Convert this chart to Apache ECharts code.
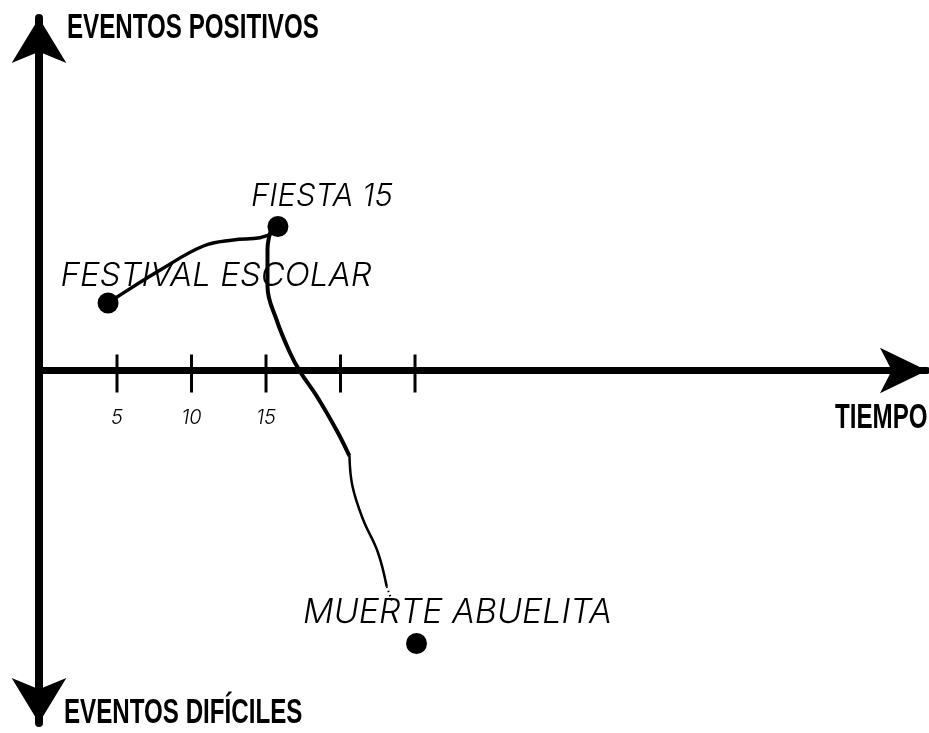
<!DOCTYPE html>
<html><head><meta charset="utf-8">
<script src="https://cdn.jsdelivr.net/npm/echarts@6/dist/echarts.min.js"></script>
<style>html,body{margin:0;padding:0;background:#fff}#c{width:929px;height:733px}</style>
</head><body><div id="c"></div>
<script>
// ---- data ----
const eventNames = ['FESTIVAL ESCOLAR', 'FIESTA 15', 'MUERTE ABUELITA'];
const eventX = [4.4, 15.8, 25.1];
const eventY = [4.5, 9.6, -18.2];
// hand-drawn connecting curve
const riseX = [4.4, 5.0, 7.9, 10.8, 12.8, 14.6, 15.5, 15.8];
const riseY = [4.5, 4.9, 6.7, 8.3, 8.7, 8.85, 9.2, 9.6];
const fallX = [15.3, 15.1, 15.1, 15.7, 16.6, 17.3, 18.4, 19.8, 20.6];
const fallY = [9.25, 8.1, 5.6, 3.4, 1.2, -0.1, -1.7, -4.1, -5.7];
const fadeX = [20.6, 20.8, 21.5, 22.5, 23.1];
const fadeY = [-5.7, -7.7, -9.9, -12.1, -14.4];
const trailX = [23.1, 23.5];
const trailY = [-14.4, -15.5];
const tickValues = [5, 10, 15, 20, 25];
const tickLabels = ['5', '10', '15', '', ''];
const xTitle = 'TIEMPO';
const yTopTitle = 'EVENTOS POSITIVOS';
const yBottomTitle = 'EVENTOS DIFÍCILES';

// ---- chart ----
const zip = (xs, ys) => xs.map((x, i) => [x, ys[i]]);
const hand = { fontFamily: 'Inter', fontStyle: 'italic', fontWeight: 300, color: '#000' };
const labelOffsets = [[108, -27], [44, -30], [41, -31]];
const labelSizes = [33, 31, 34];
const titleFont = { fontFamily: 'Liberation Sans', fontWeight: 'bold', fontSize: 35, fill: '#000' };
const titleText = (text, x, y) => ({
  type: 'text', x: x, y: y, scaleX: 0.69, scaleY: 1,
  style: Object.assign({ text: text, textVerticalAlign: 'middle' }, titleFont)
});

const chart = echarts.init(document.getElementById('c'), null, { renderer: 'canvas' });
chart.setOption({
  animation: false,
  backgroundColor: '#fff',
  grid: { left: 39, right: 2, top: 18, bottom: 10 },
  xAxis: {
    type: 'value', min: -0.235, max: 59.36,
    axisLine: { onZero: true, lineStyle: { color: '#000', width: 7 },
      symbol: ['none', 'arrow'], symbolSize: [34, 47] },
    axisTick: { show: false }, axisLabel: { show: false }, splitLine: { show: false }
  },
  yAxis: {
    type: 'value', min: -23.5, max: 23.5,
    axisLine: { onZero: false, lineStyle: { color: '#000', width: 8 },
      symbol: ['arrow', 'arrow'], symbolSize: [41, 45] },
    axisTick: { show: false }, axisLabel: { show: false }, splitLine: { show: false }
  },
  graphic: [
    titleText(yTopTitle, 67, 28),
    titleText(yBottomTitle, 64, 713),
    titleText(xTitle, 835, 418)
  ],
  series: [
    { type: 'line', data: zip(riseX, riseY), smooth: 0.4, symbol: 'none',
      lineStyle: { color: '#000', width: 3.5 }, z: 3 },
    { type: 'line', data: zip(fallX, fallY), smooth: 0.4, symbol: 'none',
      lineStyle: { color: '#000', width: 4 }, z: 3 },
    { type: 'line', data: zip(fadeX, fadeY), smooth: 0.4, symbol: 'none',
      lineStyle: { color: '#000', width: 2.5 }, z: 3 },
    { type: 'line', data: zip(trailX, trailY), symbol: 'none',
      lineStyle: { color: '#000', width: 2, type: [1.5, 3] }, z: 3 },
    { type: 'scatter', data: tickValues.map((v, i) => ({ value: [v, 0], label: { formatter: tickLabels[i] } })),
      symbol: 'rect', symbolSize: [3, 38], symbolOffset: [0, 3],
      itemStyle: { color: '#000', opacity: 1 }, z: 4,
      label: Object.assign({ show: true, position: 'inside', offset: [0, 44], fontSize: 20 }, hand)
    },
    { type: 'scatter', z: 5, symbolSize: 21, itemStyle: { color: '#000', opacity: 1 },
      data: eventNames.map((n, i) => ({
        value: [eventX[i], eventY[i]], name: n,
        label: { offset: labelOffsets[i], fontSize: labelSizes[i] }
      })),
      label: Object.assign({ show: true, position: 'inside', formatter: p => p.name }, hand)
    }
  ]
});
</script></body></html>
